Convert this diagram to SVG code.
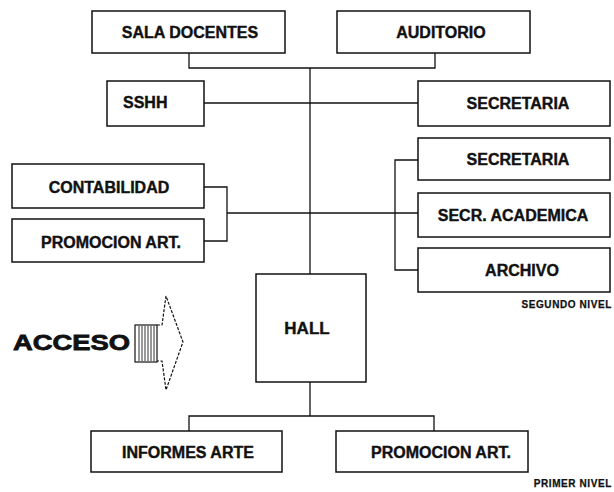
<svg xmlns="http://www.w3.org/2000/svg" width="614" height="492" viewBox="0 0 614 492">
<style>
.box{fill:#fff;stroke:#111;stroke-width:1.5}
.lbl{font-family:"Liberation Sans",Arial,sans-serif;font-weight:bold;font-size:16px;fill:#111;stroke:#111;stroke-width:0.4;text-anchor:middle}
.lvl{font-family:"Liberation Sans",Arial,sans-serif;font-weight:bold;font-size:10px;fill:#111;stroke:#111;stroke-width:0.25;text-anchor:end;letter-spacing:0.6px}
.con{fill:none;stroke:#111;stroke-width:1.3}
</style>
<rect width="614" height="492" fill="#fff"/>
<g id="connectors" class="con">
<path d="M189,53 V68 H435 V53"/>
<path d="M310,68 V274"/>
<path d="M204,103 H418"/>
<path d="M204,187 H227 V241 H204"/>
<path d="M227,213 H418"/>
<path d="M418,160 H395 V270 H418"/>
<path d="M310,382 V416"/>
<path d="M189,431 V416 H434 V431"/>
</g>
<g id="sala-docentes"><rect class="box" x="92" y="11" width="193" height="42"/><text class="lbl" x="190" y="38">SALA DOCENTES</text></g>
<g id="auditorio"><rect class="box" x="337" y="11" width="193" height="42"/><text class="lbl" x="441" y="38">AUDITORIO</text></g>
<g id="sshh"><rect class="box" x="107" y="81" width="97" height="45"/><text class="lbl" x="123" y="108" style="text-anchor:start">SSHH</text></g>
<g id="secretaria-1"><rect class="box" x="418" y="81" width="192" height="45"/><text class="lbl" x="518" y="109">SECRETARIA</text></g>
<g id="secretaria-2"><rect class="box" x="418" y="138" width="192" height="42"/><text class="lbl" x="518" y="165">SECRETARIA</text></g>
<g id="secr-academica"><rect class="box" x="418" y="193" width="192" height="44"/><text class="lbl" x="513" y="221">SECR. ACADEMICA</text></g>
<g id="archivo"><rect class="box" x="418" y="248" width="192" height="44"/><text class="lbl" x="522" y="276">ARCHIVO</text></g>
<g id="contabilidad"><rect class="box" x="12" y="164" width="192" height="44"/><text class="lbl" x="109" y="193">CONTABILIDAD</text></g>
<g id="promocion-art-2"><rect class="box" x="12" y="219" width="192" height="43"/><text class="lbl" x="111" y="248">PROMOCION ART.</text></g>
<g id="hall"><rect class="box" x="256" y="274" width="110" height="108"/><text class="lbl" x="307" y="334" style="font-size:17px">HALL</text></g>
<g id="informes-arte"><rect class="box" x="91" y="431" width="191" height="41"/><text class="lbl" x="188" y="458">INFORMES ARTE</text></g>
<g id="promocion-art-1"><rect class="box" x="336" y="431" width="192" height="41"/><text class="lbl" x="441" y="458">PROMOCION ART.</text></g>
<g id="acceso">
<text x="13" y="350" textLength="117" lengthAdjust="spacingAndGlyphs" style="font-family:'Liberation Sans',Arial,sans-serif;font-weight:bold;font-size:22px;fill:#111;stroke:#111;stroke-width:0.8">ACCESO</text>
<rect x="135" y="325" width="22" height="37" fill="#fff" stroke="#111" stroke-width="1.2"/>
<path d="M139,326 V361 M142,326 V361 M145,326 V361 M148,326 V361 M151,326 V361 M154,326 V361" stroke="#333" stroke-width="1"/>
<path d="M157,325 H162 L166,296 L183,342 L166,390 L162,361 H157" fill="none" stroke="#111" stroke-width="1.2" stroke-dasharray="3 1.5"/>
</g>
<text class="lvl" x="612" y="308">SEGUNDO NIVEL</text>
<text class="lvl" x="612" y="487">PRIMER NIVEL</text>
</svg>
